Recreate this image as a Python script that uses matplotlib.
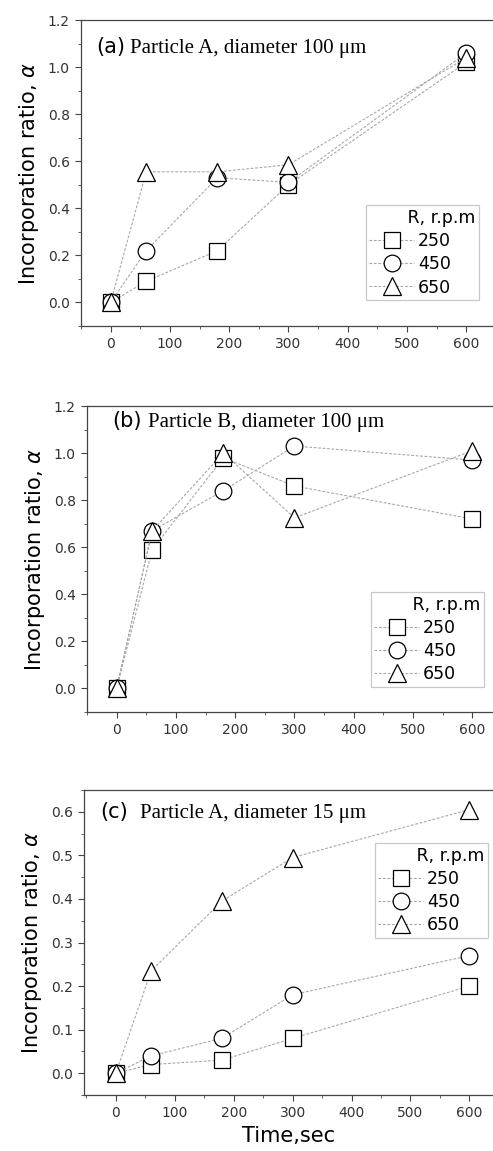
import matplotlib.pyplot as plt
from matplotlib.ticker import MultipleLocator

# time points (sec)
t = [0, 60, 180, 300, 600]
speeds = ['250', '450', '650']

# (a) Particle A, diameter 100 um
a_250 = [0, 0.09, 0.22, 0.50, 1.02]
a_450 = [0, 0.22, 0.53, 0.51, 1.06]
a_650 = [0, 0.555, 0.555, 0.585, 1.04]

# (b) Particle B, diameter 100 um
b_250 = [0, 0.59, 0.98, 0.86, 0.72]
b_450 = [0, 0.67, 0.84, 1.03, 0.97]
b_650 = [0, 0.67, 1.00, 0.725, 1.01]

# (c) Particle A, diameter 15 um
c_250 = [0, 0.02, 0.03, 0.08, 0.20]
c_450 = [0, 0.04, 0.08, 0.18, 0.27]
c_650 = [0, 0.235, 0.395, 0.495, 0.605]

W, H = 493, 1151
fig = plt.figure(figsize=(W / 100, H / 100), dpi=100)

markers = ['s', 'o', '^']
msizes = [11, 12, 13]
tickcol = '#333333'


def panel(left, top, bottom, xlim, ylim, series, tag, label, yminor, ymajor,
          txt, legloc, legbox):
    ax = fig.add_axes([left / W, (H - bottom) / H, (W - left) / W, (bottom - top) / H])
    for ys, m, ms, sp in zip(series, markers, msizes, speeds):
        ax.plot(t, ys, linestyle=(0, (2.5, 1.5)), color='#a8a8a8', lw=0.8,
                marker=m, markersize=ms, markerfacecolor='white',
                markeredgecolor='black', markeredgewidth=0.9, label=sp, clip_on=False)
    ax.set_xlim(*xlim)
    ax.set_ylim(*ylim)
    ax.xaxis.set_major_locator(MultipleLocator(100))
    ax.xaxis.set_minor_locator(MultipleLocator(50))
    ax.yaxis.set_major_locator(MultipleLocator(ymajor))
    ax.yaxis.set_minor_locator(MultipleLocator(yminor))
    ax.tick_params(which='both', direction='out', colors='#444444', labelcolor=tickcol,
                   labelsize=10, top=False, right=False)
    ax.tick_params(which='major', length=4.5)
    ax.tick_params(which='minor', length=2.5)
    ax.spines['right'].set_visible(False)
    for s in ['left', 'bottom', 'top']:
        ax.spines[s].set_color('#444444')
        ax.spines[s].set_linewidth(0.9)
    ax.set_ylabel('Incorporation ratio, $\\alpha$', fontsize=15, labelpad=5)
    tx, px, ty = txt
    ax.text(tx, ty, tag, transform=ax.transAxes, fontsize=15, va='center', ha='left')
    ax.text(px, ty - 0.005, label, transform=ax.transAxes, fontsize=15,
            family='Liberation Serif', va='center', ha='left')
    leg = ax.legend(title='       R, r.p.m', loc=legloc, fontsize=12.5,
                    title_fontsize=12.5, frameon=True, fancybox=False,
                    edgecolor='#bbbbbb', handlelength=2.6, handletextpad=0.2,
                    labelspacing=0.3, borderpad=0.2, borderaxespad=0,
                    bbox_to_anchor=legbox)
    leg._legend_box.align = 'left'
    leg.get_frame().set_linewidth(0.9)
    return ax


panel(81, 20, 326, (-50, 645), (-0.1, 1.2), [a_250, a_450, a_650],
      '(a)', 'Particle A, diameter 100 \u03bcm', 0.1, 0.2,
      (0.036, 0.119, 0.912), 'lower right', (0.966, 0.085))
panel(87, 406, 712, (-50, 635), (-0.1, 1.2), [b_250, b_450, b_650],
      '(b)', 'Particle B, diameter 100 \u03bcm', 0.1, 0.2,
      (0.062, 0.15, 0.95), 'lower right', (0.978, 0.082))
ax = panel(84, 790, 1095, (-54, 640), (-0.05, 0.65), [c_250, c_450, c_650],
           '(c)', 'Particle A, diameter 15 \u03bcm', 0.05, 0.1,
           (0.039, 0.137, 0.928), 'upper right', (0.988, 0.826))
ax.set_xlabel('Time,sec', fontsize=15, labelpad=4)

fig.savefig('out.png', dpi=100)
